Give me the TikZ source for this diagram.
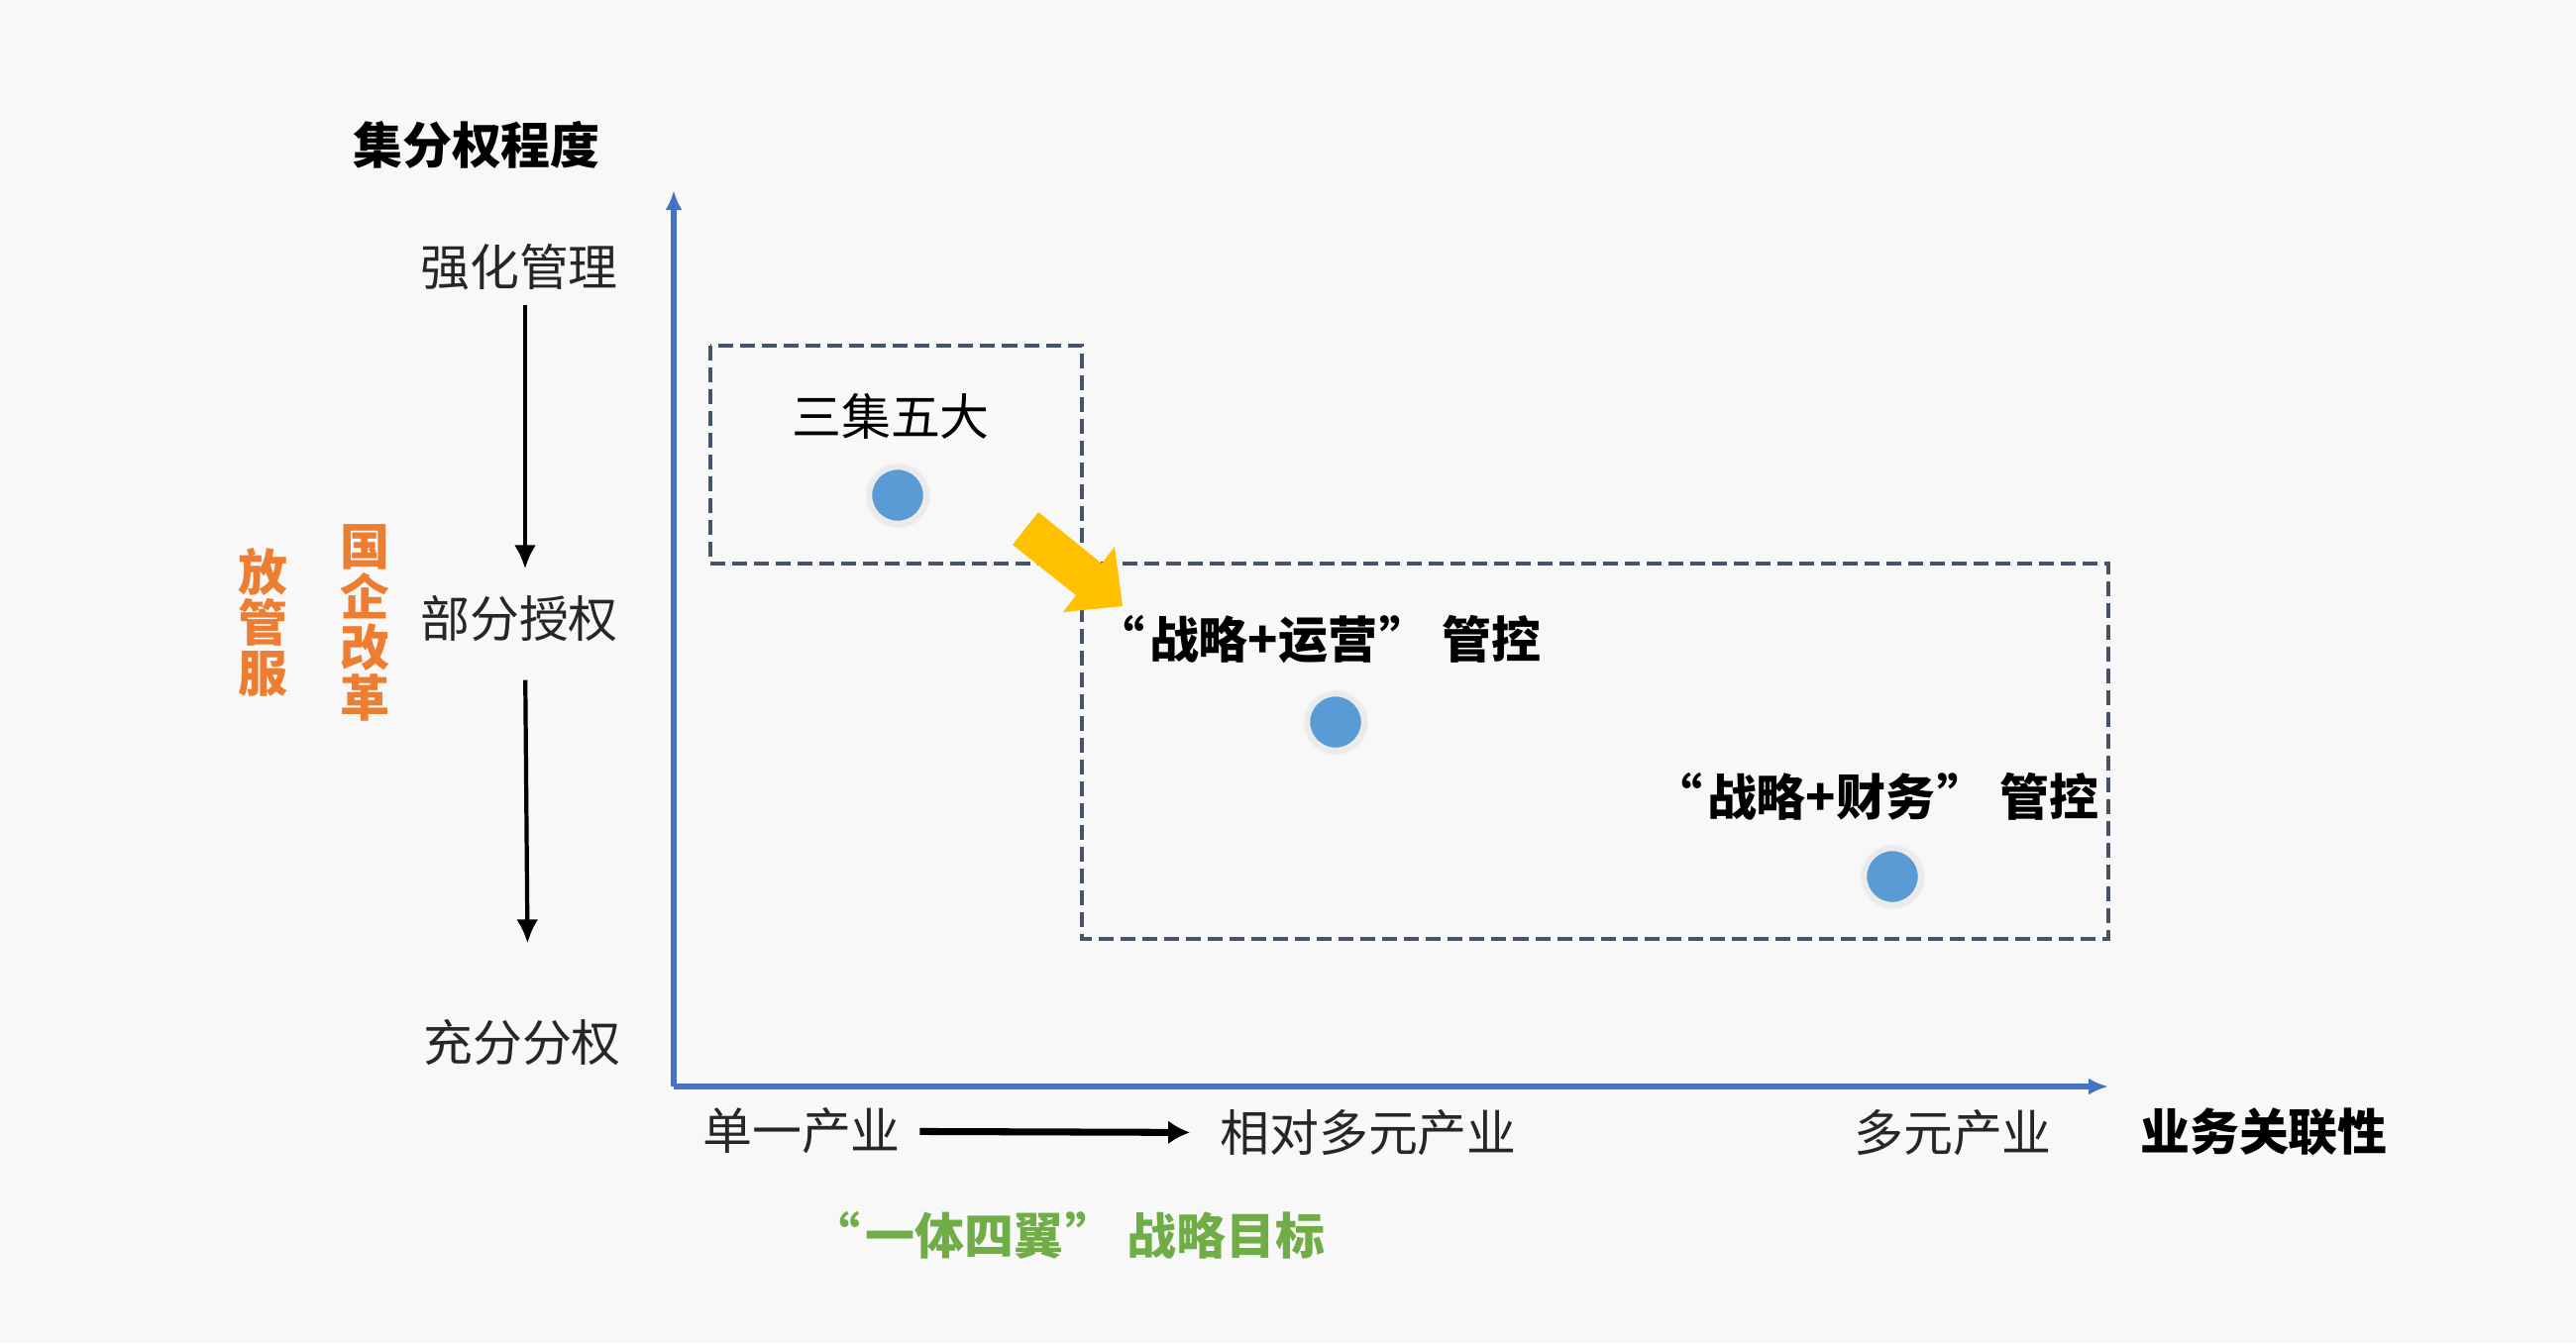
\documentclass[tikz,border=0pt]{standalone}
\usepackage{fontspec}
\setmainfont{Noto Sans CJK SC}
\usetikzlibrary{arrows.meta, shadows}
\definecolor{bgcolor}{RGB}{248,248,248}
\definecolor{axisblue}{RGB}{68,114,196}
\definecolor{dotblue}{RGB}{91,155,213}
\definecolor{boxslate}{RGB}{68,84,106}
\definecolor{reformorange}{RGB}{237,125,49}
\definecolor{goalgreen}{RGB}{112,173,71}
\definecolor{arrowgold}{RGB}{255,192,0}
\def\labelcolor{black!85}
\newcommand{\fwlq}{“\hspace{0.1em}}
\newcommand{\fwrq}{\hspace{0.05em}”\hspace{0.25em}}
\tikzset{
	lbl/.style = {font = \fontsize{14.2pt}{14pt}\selectfont, text = \labelcolor},
	head/.style = {font = \fontsize{14.2pt}{14pt}\selectfont\bfseries, text = black},
	vtext/.style = {font = \fontsize{14.2pt}{14.5pt}\selectfont\bfseries, text = reformorange, align = center, inner sep = 0pt},
	dot/.style = {circle, fill = dotblue, draw = black!8, line width = 0.045cm, minimum size = 0.56cm, inner sep = 0pt,
		circular drop shadow = {shadow xshift = 0pt, shadow yshift = 0pt, shadow scale = 1.2, opacity = 0.18}},
	zone/.style = {draw = boxslate, line width = 1.4pt, dash pattern = on 0.15cm off 0.07cm}
}

\begin{document}
\begin{tikzpicture}[x = 0.01cm, y = -0.01cm]
	\fill[bgcolor] (0, 0) rectangle (2600, 1356);
	\useasboundingbox (0, 0) rectangle (2600, 1356);
	% axes
	\coordinate (origin) at (680, 1097);
	\coordinate (ytip) at (680, 192);
	\coordinate (xtip) at (2128, 1097);
	\draw[-{Latex[length = 0.2cm, width = 0.17cm]}, axisblue, line width = 1.5pt] (origin) -- (ytip);
	\draw[-{Latex[length = 0.2cm, width = 0.17cm]}, axisblue, line width = 1.5pt] (origin) -- (xtip);
	\node[head] (ylabel) at (481, 146) {集分权程度};
	\node[head] (xlabel) at (2285, 1143) {业务关联性};
	% degree of centralisation
	\node[lbl] (strong) at (524, 270) {强化管理};
	\node[lbl] (partial) at (524, 625) {部分授权};
	\node[lbl] (full) at (527, 1053) {充分分权};
	\draw[-{Latex[length = 0.24cm, width = 0.22cm]}, line width = 1.2pt, shorten <= 0.02cm, shorten >= 0.15cm] ([xshift = 0.06cm]strong.south) -- ([xshift = 0.06cm]partial.north);
	\draw[-{Latex[length = 0.24cm, width = 0.22cm]}, line width = 1.2pt, shorten <= 0.26cm, shorten >= 0.65cm] ([xshift = 0.06cm]partial.south) -- ([xshift = 0.06cm]full.north);
	\node[vtext] (fangguanfu) at (265, 628) {放\\管\\服};
	\node[vtext] (soereform) at (368, 629) {国\\企\\改\\革};
	% industry
	\node[lbl] (single) at (809, 1142) {单一产业};
	\node[lbl] (relative) at (1381, 1144) {相对多元产业};
	\node[lbl] (multi) at (1971, 1144) {多元产业};
	\draw[-{Latex[length = 0.22cm, width = 0.24cm]}, line width = 2pt, shorten <= 2pt, shorten >= 5pt] (single) -- (relative);
	\node[font = \fontsize{14.2pt}{14pt}\selectfont\bfseries, text = goalgreen] (goal) at (1078, 1247) {\fwlq 一体四翼\fwrq 战略目标};
	% control zones
	\draw[zone] (717, 349) rectangle (1092, 569);
	\draw[zone] (1092, 569) rectangle (2128, 948);
	\fill[arrowgold] (1022, 550) -- (1086, 601) -- (1073, 618) -- (1133, 612) -- (1125, 552) -- (1112, 569) -- (1048, 517) -- cycle;
	\node[font = \fontsize{14.2pt}{14pt}\selectfont, text = black] (sanji) at (899, 420) {三集五大};
	\node[head] (operate) at (1330, 646) {\fwlq 战略+运营\fwrq 管控};
	\node[head] (finance) at (1893, 804) {\fwlq 战略+财务\fwrq 管控};
	\node[dot] (dotsanji) at (906, 500) {};
	\node[dot] (dotoperate) at (1348, 729) {};
	\node[dot] (dotfinance) at (1910, 885) {};
\end{tikzpicture}
\end{document}
